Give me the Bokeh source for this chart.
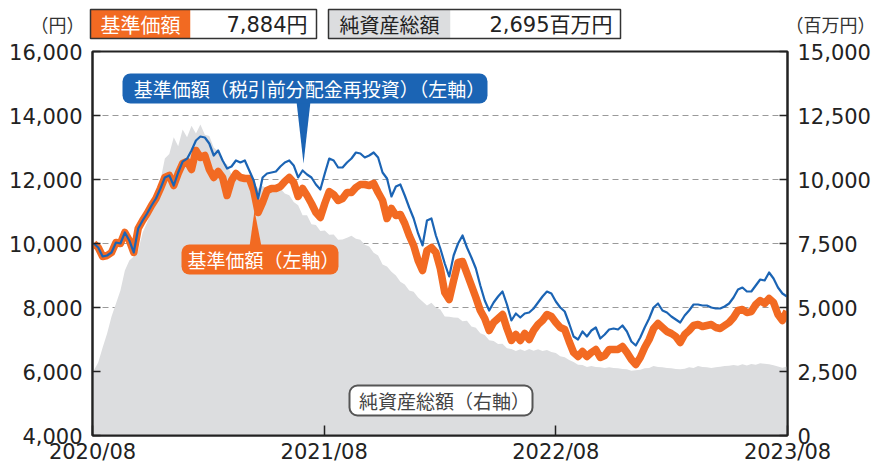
import pandas as pd
from bokeh.plotting import figure
from bokeh.models import (ColumnDataSource, Range1d, LinearAxis, FixedTicker,
                          NumeralTickFormatter, BoxAnnotation, Label, PolyAnnotation)
from bokeh.core.properties import value
from bokeh.embed import file_html
from bokeh.resources import INLINE

# ---------------- data (weekly) ----------------
first_week = "2020-08-03"

nav = [10000, 9875, 9594, 9625, 9719, 10031, 10000, 10344, 10094, 9719,
       10469, 10719, 10938, 11188, 11406, 11719, 12063, 12125, 11813, 12188,
       12500, 12563, 12313, 12906, 12688, 12750, 12313, 12063, 12250, 12063,
       11500, 11969, 12188, 12063, 12031, 12031, 11656, 10969, 11281, 11656,
       11719, 11719, 11781, 11938, 12063, 11906, 11469, 11719, 11500, 11250,
       10969, 10813, 11250, 11625, 11531, 11344, 11406, 11594, 11594, 11750,
       11844, 11844, 11813, 11875, 11594, 11344, 10781, 11094, 10875, 10906,
       10625, 10250, 9938, 9469, 9156, 9781, 9875, 9719, 9219, 8469,
       8250, 8844, 9406, 9438, 9063, 8688, 8313, 7906, 7656, 7281,
       7531, 7656, 7781, 7344, 6969, 7156, 6969, 7188, 7000, 7281,
       7469, 7594, 7781, 7719, 7531, 7375, 7313, 6938, 6594, 6469,
       6625, 6469, 6594, 6688, 6438, 6500, 6688, 6688, 6688, 6781,
       6594, 6375, 6219, 6438, 6750, 7000, 7344, 7500, 7375, 7250,
       7188, 7094, 6906, 7156, 7281, 7438, 7469, 7406, 7438, 7469,
       7375, 7344, 7438, 7531, 7688, 7906, 7938, 7844, 7875, 8094,
       8219, 8125, 8281, 8156, 7781, 7594, 7884]

nav_reinvested = [10000, 9875, 9594, 9625, 9719, 10031, 10000, 10344, 10094, 9719,
                  10469, 10719, 10938, 11188, 11406, 11719, 12063, 12125, 11813, 12219,
                  12560, 12650, 12906, 13219, 13344, 13313, 13125, 12750, 12906, 12594,
                  12344, 12406, 12594, 12531, 12594, 12281, 11969, 11406, 12063, 12188,
                  12219, 12250, 12406, 12531, 12594, 12438, 12063, 12281, 12156, 12063,
                  11844, 11688, 12188, 12656, 12594, 12375, 12375, 12531, 12656, 12844,
                  12813, 12688, 12750, 12844, 12688, 12219, 12031, 11469, 11781, 11844,
                  11500, 11125, 10781, 10313, 9938, 10719, 10781, 10250, 9844, 9375,
                  8969, 9625, 10000, 10250, 9875, 9563, 9219, 8688, 8219, 7906,
                  8156, 8344, 8500, 8094, 7594, 7813, 7688, 7813, 7844, 7969,
                  8156, 8344, 8500, 8438, 8188, 8000, 7875, 7500, 7094, 7000,
                  7250, 7094, 7281, 7375, 7031, 7156, 7313, 7344, 7313, 7438,
                  7250, 6938, 6813, 7063, 7375, 7656, 8000, 8125, 7906, 7844,
                  7719, 7625, 7531, 7750, 7906, 8094, 8094, 8063, 8063, 8000,
                  7969, 7969, 8031, 8125, 8313, 8563, 8625, 8500, 8500, 8688,
                  8875, 8844, 9094, 8906, 8625, 8438, 8344]

net_assets = [2539, 2852, 3438, 3984, 4648, 5156, 5664, 6445, 6836, 6992,
              7227, 7930, 8320, 8789, 9180, 9961, 10820, 11000, 11650, 11300,
              11950, 11650, 12100, 11800, 12150, 11750, 11700, 11250, 11100, 10650,
              10600, 10200, 10250, 9950, 10050, 9800, 9850, 9650, 9750, 9650,
              9700, 9600, 9650, 9450, 9380, 9120, 8990, 8600, 8600, 8250,
              8220, 7990, 8010, 7840, 7850, 7650, 7660, 7720, 7800, 7690,
              7650, 7450, 7380, 7140, 7030, 6680, 6600, 6400, 6250, 6010,
              5900, 5660, 5620, 5390, 5230, 5080, 5190, 5000, 4920, 4650,
              4640, 4610, 4600, 4460, 4480, 4260, 4210, 3990, 3930, 3720,
              3690, 3570, 3580, 3410, 3380, 3300, 3370, 3300, 3380, 3310,
              3370, 3300, 3340, 3260, 3220, 3100, 3060, 2950, 2870, 2760,
              2750, 2680, 2710, 2680, 2670, 2640, 2670, 2640, 2630, 2600,
              2590, 2530, 2550, 2570, 2630, 2640, 2710, 2680, 2670, 2640,
              2630, 2600, 2590, 2610, 2670, 2640, 2710, 2680, 2670, 2640,
              2670, 2690, 2710, 2720, 2750, 2720, 2780, 2730, 2790, 2760,
              2820, 2800, 2780, 2740, 2700, 2650, 2695]

x_tick_dates = ["2020-08-01", "2021-08-01", "2022-08-01", "2023-08-01"]
x_tick_labels = ["2020/08", "2021/08", "2022/08", "2023/08"]
left_ticks = [4000, 6000, 8000, 10000, 12000, 14000, 16000]
right_ticks = [0, 2500, 5000, 7500, 10000, 12500, 15000]
grid_ticks = [8000, 10000, 12000, 14000]

left_unit = "（円）"
right_unit = "（百万円）"
nav_title = "基準価額"
nav_latest = "7,884円"
na_title = "純資産総額"
na_latest = "2,695百万円"
label_reinvest = "基準価額（税引前分配金再投資）（左軸）"
label_nav = "基準価額（左軸）"
label_na = "純資産総額（右軸）"

# ---------------- styles ----------------
ORANGE = "#f26a22"
BLUE = "#1b64b4"
GREY = "#dcdddf"
TEXT = "#222222"
JP = "Noto Sans CJK JP"
NUM = "DejaVu Sans"

# ---------------- header strip (own figure, page-pixel units) ----------------
HEADER_H = 41
h = figure(width=877, height=HEADER_H, x_range=Range1d(0, 877), y_range=Range1d(HEADER_H, 0),
           x_axis_location=None, y_axis_location=None, min_border=0, title=None,
           toolbar_location=None, output_backend="svg", outline_line_color=None,
           background_fill_color="white", border_fill_color="white")
h.grid.visible = False

h.quad(left=[90, 190, 328, 450], right=[190, 316, 450, 620], top=[9, 9, 9, 9],
       bottom=[38, 38, 38, 38], fill_color=[ORANGE, "white", GREY, "white"], line_color=None)
h.quad(left=[90, 328], right=[316, 620], top=[9, 9], bottom=[38, 38],
       fill_color=None, line_color="#333333", line_width=1.5)
h.text(x=[140, 389], y=[24, 24], text=[nav_title, na_title], text_color=["white", TEXT],
       text_font=value(JP), text_font_size=value("20px"), text_align="center",
       text_baseline="middle")
h.text(x=[307, 612], y=[24, 24], text=[nav_latest, na_latest], text_color=TEXT,
       text_font=value("DejaVu Sans, Noto Sans CJK JP"), text_font_size=value("21px"),
       text_align="right", text_baseline="middle")
h.text(x=[57, 830], y=[23, 23], text=[left_unit, right_unit], text_color="#333333",
       text_font=value(JP), text_font_size=value("18px"), text_align="center",
       text_baseline="middle")

# ---------------- main chart ----------------
x0 = pd.Timestamp(x_tick_dates[0]).timestamp() * 1000
x1 = pd.Timestamp(x_tick_dates[-1]).timestamp() * 1000

p = figure(x_axis_type="datetime", x_range=Range1d(x0, x1), y_range=Range1d(4000, 16000),
           frame_width=695, frame_height=384, min_border_left=92, min_border_right=90,
           min_border_top=51 - HEADER_H, min_border_bottom=30, output_backend="svg",
           toolbar_location=None, background_fill_color="white", border_fill_color="white")
p.extra_y_ranges = {"na": Range1d(0, 15000)}

src_na = ColumnDataSource(dict(date=pd.date_range(first_week, periods=len(net_assets), freq="7D"), v=net_assets))
src_nav = ColumnDataSource(dict(date=pd.date_range(first_week, periods=len(nav), freq="7D"), v=nav))
src_re = ColumnDataSource(dict(date=pd.date_range(first_week, periods=len(nav_reinvested), freq="7D"), v=nav_reinvested))

p.varea(x="date", y1=0, y2="v", source=src_na, y_range_name="na", fill_color=GREY)
p.line(x="date", y="v", source=src_nav, line_color=ORANGE, line_width=7.5, line_join="round")
p.line(x="date", y="v", source=src_re, line_color=BLUE, line_width=2.2, line_join="round")

p.xgrid.visible = False
p.ygrid.ticker = FixedTicker(ticks=grid_ticks)
p.ygrid.grid_line_color = "#9a9a9a"
p.ygrid.grid_line_dash = "6 4"
p.ygrid.grid_line_width = 1

p.outline_line_color = TEXT
p.outline_line_width = 2

def style_axis(ax, tick_in):
    ax.major_tick_in = tick_in
    ax.major_tick_out = 0
    ax.minor_tick_line_color = None
    ax.axis_line_color = TEXT
    ax.axis_line_width = 2
    ax.major_tick_line_color = TEXT
    ax.major_tick_line_width = 1.5
    ax.major_label_text_font = NUM
    ax.major_label_text_font_size = "21px"
    ax.major_label_text_color = TEXT

ly = p.yaxis[0]
ly.ticker = FixedTicker(ticks=left_ticks)
ly.formatter = NumeralTickFormatter(format="0,0")
style_axis(ly, 8)
ly.major_label_standoff = 10

ry = LinearAxis(y_range_name="na", ticker=FixedTicker(ticks=right_ticks),
                formatter=NumeralTickFormatter(format="0,0"))
style_axis(ry, 8)
ry.major_label_standoff = 10
p.add_layout(ry, "right")

bx = p.xaxis[0]
tick_ms = [int(pd.Timestamp(d).timestamp() * 1000) for d in x_tick_dates]
bx.ticker = FixedTicker(ticks=tick_ms)
bx.major_label_overrides = dict(zip(tick_ms, x_tick_labels))
style_axis(bx, 10)
bx.major_label_standoff = 4

# annotation placement helpers (page pixel -> data units of the frame)
def sx(px):
    return x0 + (px - 92) / 695 * (x1 - x0)

def sy(py):
    return 4000 + (435 - py) * 12000 / 384

def box(l, r, t, b, fill, line=None, lw=0, radius=8):
    p.add_layout(BoxAnnotation(left=sx(l), right=sx(r), top=sy(t), bottom=sy(b),
                               fill_color=fill, fill_alpha=1,
                               line_color=line if line else fill,
                               line_alpha=1 if line else 0, line_width=lw,
                               border_radius=radius))

def text(px, py, s, color, size):
    p.add_layout(Label(x=sx(px), y=sy(py), text=s, text_align="center", text_baseline="middle",
                       text_color=color, text_font=JP, text_font_size=size))

p.add_layout(PolyAnnotation(xs=[sx(296), sx(310), sx(303)], ys=[sy(101), sy(101), sy(163)],
                            fill_color=BLUE, fill_alpha=1, line_color=None))
box(122, 487, 73, 103, BLUE)
text(309, 88, label_reinvest, "white", "19px")

p.add_layout(PolyAnnotation(xs=[sx(249), sx(261), sx(254)], ys=[sy(246), sy(246), sy(210)],
                            fill_color=ORANGE, fill_alpha=1, line_color=None))
box(181, 338, 244, 274, ORANGE)
text(263, 259, label_nav, "white", "19px")

box(349, 532, 385, 415, "white", line="#555555", lw=2)
text(444, 400, label_na, "#444444", "19px")

open("out.html", "w").write(file_html([h, p], INLINE))
